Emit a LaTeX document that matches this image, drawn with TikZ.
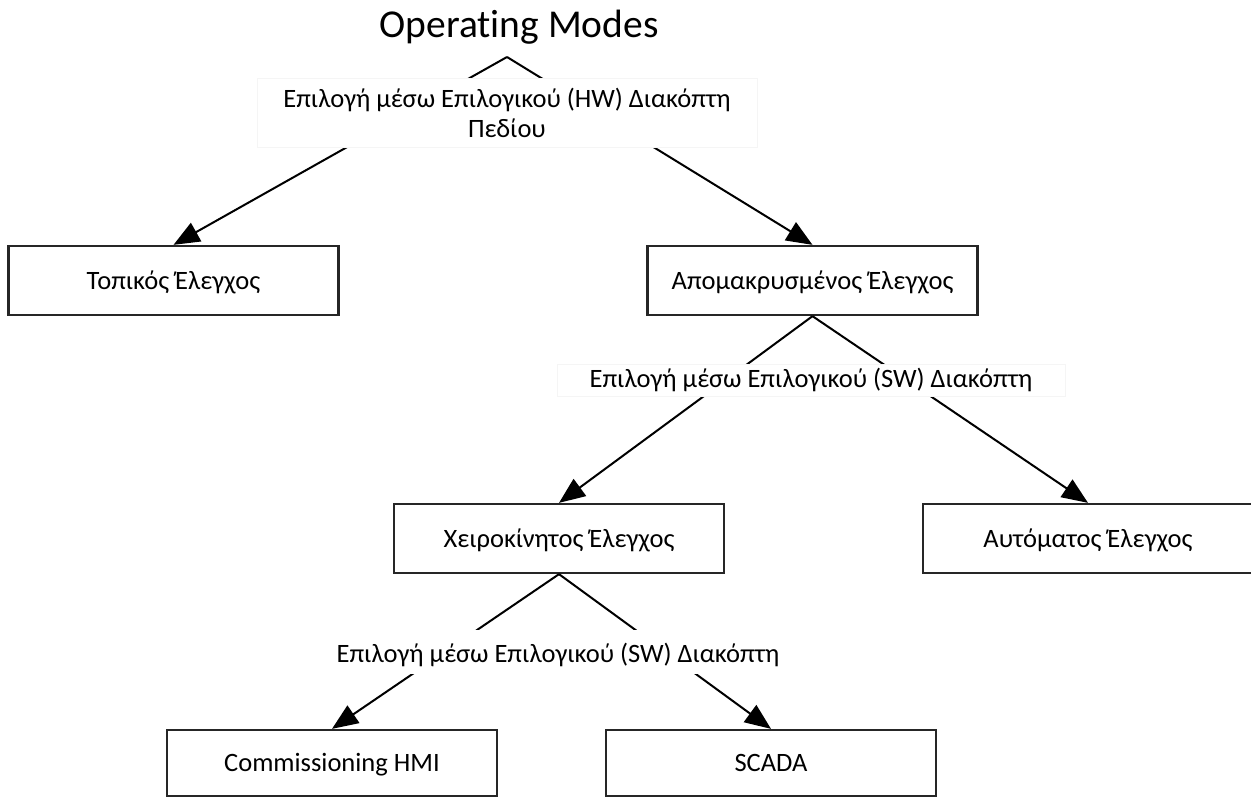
\documentclass[tikz,border=0pt]{standalone}
\usepackage{fontspec}
\setmainfont{Carlito}[Ligatures=NoCommon]
\usetikzlibrary{arrows.meta}
\begin{document}
\begin{tikzpicture}[x=1pt,y=-1pt,
  mode/.style={draw=black!85, line width=2.3pt, fill=white,
    minimum width=330pt, minimum height=69pt, inner sep=0pt,
    text height=20pt, text depth=3pt,
    font=\fontsize{26.5}{30}\selectfont},
  choice/.style={fill=white, draw=black!4, line width=0.8pt, inner sep=0pt,
    align=center, font=\fontsize{26.5}{30}\selectfont},
  link/.style={line width=2pt, -{Triangle[length=26pt,width=21pt]}},
]
\useasboundingbox (0,0) rectangle (1251,800);

% title and the fork point under it
\node[font=\fontsize{39.5}{46}\selectfont] (title) at (519,27) {Operating Modes};
\coordinate (root) at (507,57);

% mode boxes
\node[mode] (local)  at (173.5,280.5) {Τοπικός Έλεγχος};
\node[mode] (remote) at (812.5,280.5) {Απομακρυσμένος Έλεγχος};
\node[mode] (manual) at (559,538.5)   {Χειροκίνητος Έλεγχος};
\node[mode] (auto)   at (1088,538.5)  {Αυτόματος Έλεγχος};
\node[mode, minimum height=66pt] (hmi)   at (332,763) {Commissioning HMI};
\node[mode, minimum height=66pt] (scada) at (771,763) {SCADA};

% branches
\draw[link] (root) -- (local.north);
\draw[link] (root) -- (remote.north);
\draw[link] (remote.south) -- (manual.north);
\draw[link] (remote.south) -- (auto.north);
\draw[link] (manual.south) -- (hmi.north);
\draw[link] (manual.south) -- (scada.north);

% selection labels laid over the branches
\node[choice, minimum width=500pt, minimum height=69pt] (hwsel) at (507,112.5)
  {Επιλογή μέσω Επιλογικού (HW) Διακόπτη\\Πεδίου};
\node[choice, minimum width=508pt, minimum height=32pt, text height=19pt, text depth=4pt] (swsel1) at (811,380)
  {Επιλογή μέσω Επιλογικού (SW) Διακόπτη};
\node[choice, draw=none, minimum width=508pt, minimum height=44pt, text height=23pt, text depth=2pt] (swsel2) at (558,652)
  {Επιλογή μέσω Επιλογικού (SW) Διακόπτη};
\end{tikzpicture}
\end{document}
